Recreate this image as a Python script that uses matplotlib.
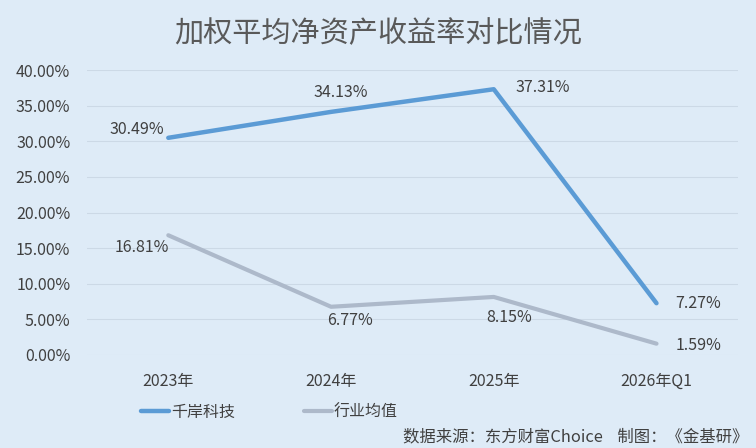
import matplotlib.pyplot as plt
from matplotlib.ticker import FuncFormatter

plt.rcParams['font.family'] = ['Noto Sans CJK SC', 'DejaVu Sans']

# 数据
categories = ['2023年', '2024年', '2025年', '2026年Q1']
qianan = [30.49, 34.13, 37.31, 7.27]
industry = [16.81, 6.77, 8.15, 1.59]

bg = '#DEEBF7'
blue = '#5B9BD5'
gray = '#ADB9CA'
txt = '#404040'

fig = plt.figure(figsize=(7.56, 4.48), dpi=100, facecolor=bg)
ax = fig.add_axes([0.115, 0.2076, 0.861, 0.636], facecolor=bg)

x = list(range(len(categories)))
ax.plot(x, qianan, color=blue, lw=3.2, solid_capstyle='round', label='千岸科技', zorder=3)
ax.plot(x, industry, color=gray, lw=3.0, solid_capstyle='round', label='行业均值', zorder=3)

ax.set_xlim(-0.5, len(categories) - 0.5)
ax.set_ylim(0, 40)
ax.set_yticks(range(0, 41, 5))
ax.yaxis.set_major_formatter(FuncFormatter(lambda v, p: f'{v:.2f}%'))
ax.set_xticks(x)
ax.set_xticklabels(categories)
ax.tick_params(axis='both', length=0, labelsize=11.5, labelcolor=txt)
ax.tick_params(axis='x', pad=13)
ax.tick_params(axis='y', pad=12)
ax.grid(axis='y', color='#CCD9E6', lw=0.8)
for s in ax.spines.values():
    s.set_visible(False)

# 数据标签
offs1 = [(-23, 6), (7, 14), (35, 1), (30, 0)]
offs2 = [(-19, -9), (14, -10), (11, -15), (30, -1)]
for i, v in enumerate(qianan):
    ax.annotate(f'{v:.2f}%', (i, v), xytext=offs1[i], textcoords='offset points',
                ha='center', va='center', fontsize=11.5, color=txt)
for i, v in enumerate(industry):
    ax.annotate(f'{v:.2f}%', (i, v), xytext=offs2[i], textcoords='offset points',
                ha='center', va='center', fontsize=11.5, color=txt)

fig.text(0.5, 0.924, '加权平均净资产收益率对比情况', ha='center', va='center',
         fontsize=21, color='#595959')

ax.legend(loc='center', bbox_to_anchor=(0.28, -0.20), ncol=2, frameon=False,
          fontsize=11.5, labelcolor=txt, handlelength=1.8, handletextpad=0.1,
          columnspacing=4.3)

fig.text(0.99, 0.025, '数据来源：东方财富Choice    制图：《金基研》', ha='right', va='center',
         fontsize=11.8, color=txt)

fig.savefig('out.png', dpi=100, facecolor=bg)
